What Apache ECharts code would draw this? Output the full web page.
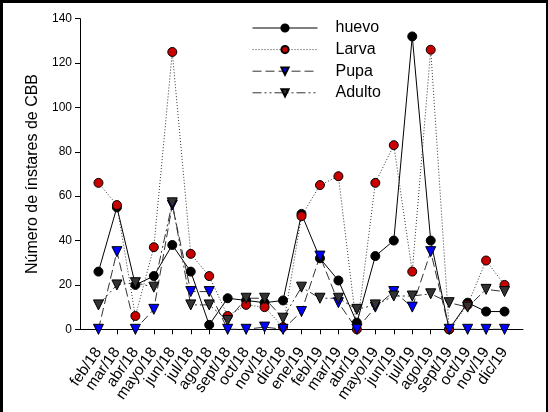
<!DOCTYPE html>
<html>
<head>
<meta charset="utf-8">
<script src="https://cdn.jsdelivr.net/npm/echarts@6/dist/echarts.min.js"></script>
<style>
  html, body { margin: 0; padding: 0; background: #fff; }
  #chart { width: 548px; height: 412px; }
  #frame { position: absolute; left: 0; top: 0; width: 548px; height: 412px; box-sizing: border-box;
           border-top: 3px solid #000; border-left: 3px solid #000; border-right: 2px solid #000; pointer-events: none; }
</style>
</head>
<body>
<div id="chart"></div>
<div id="frame"></div>
<script>
// meses muestreados
var months = ['feb/18', 'mar/18', 'abr/18', 'mayo/18', 'jun/18', 'jul/18', 'ago/18', 'sept/18', 'oct/18',
  'nov/18', 'dic/18', 'ene/19', 'feb/19', 'mar/19', 'abr/19', 'mayo/19', 'jun/19', 'jul/19', 'ago/19',
  'sept/19', 'oct/19', 'nov/19', 'dic/19']
var huevo = [26, 55, 20, 24, 38, 26, 2, 14, 13, 12, 13, 52, 32, 22, 3, 33, 40, 132, 40, 0, 12, 8, 8]
var larva = [66, 56, 6, 37, 125, 34, 24, 6, 11, 10, 1, 51, 65, 69, 0, 66, 83, 26, 126, 0, 11, 31, 20]
var pupa = [0, 35, 0, 9, 56, 17, 17, 0, 0, 1, 0, 8, 33, 12, 0, 10, 17, 10, 35, 0, 0, 0, 0]
var adulto = [11, 20, 21, 19, 57, 11, 11, 4, 14, 14, 5, 19, 14, 14, 9, 11, 15, 15, 16, 12, 10, 18, 17]
var yTicks = [0, 20, 40, 60, 80, 100, 120, 140]

// un hueco vacio a cada lado, como en la figura original
var axisData = [''].concat(months, [''])
function pad (arr) { return [null].concat(arr, [null]) }

var font = 'Liberation Sans, Arial, sans-serif'
var myChart = echarts.init(document.getElementById('chart'))
var option = {
  animation: false,
  grid: { left: 80, right: 25, top: 18.7, bottom: 82.7 },
  legend: {
    orient: 'vertical',
    left: 247,
    top: 15,
    itemWidth: 65,
    itemHeight: 9,
    itemGap: 5.6,
    lineStyle: { width: 1 },
    textStyle: { fontFamily: font, fontSize: 16, lineHeight: 16, color: '#000', padding: [0, 0, 0, 13] },
    data: ['huevo', 'Larva', 'Pupa', 'Adulto']
  },
  xAxis: {
    type: 'category',
    data: axisData,
    boundaryGap: false,
    axisLine: { lineStyle: { color: '#000', width: 1 } },
    axisTick: { length: 5, lineStyle: { color: '#000' }, interval: function (i, v) { return v !== '' } },
    axisLabel: { interval: 0, rotate: 55, margin: 20, color: '#000', fontFamily: font, fontSize: 15.5 }
  },
  yAxis: {
    type: 'value',
    min: yTicks[0],
    max: yTicks[yTicks.length - 1],
    interval: 20,
    name: 'Número de ínstares de CBB',
    nameLocation: 'middle',
    nameGap: 38,
    nameTextStyle: { fontFamily: font, fontSize: 16, color: '#000' },
    axisLine: { show: true, lineStyle: { color: '#000', width: 1 } },
    axisTick: { show: true, length: 5, lineStyle: { color: '#000' } },
    axisLabel: { margin: 8, color: '#000', fontFamily: font, fontSize: 12 },
    splitLine: { show: false }
  },
  series: [
    {
      name: 'huevo',
      type: 'line',
      data: pad(huevo),
      symbol: 'circle',
      symbolSize: 9,
      lineStyle: { color: '#000', width: 1, type: 'solid' },
      itemStyle: { color: '#000', borderColor: '#000', borderWidth: 1 }
    },
    {
      name: 'Larva',
      type: 'line',
      data: pad(larva),
      symbol: 'circle',
      symbolSize: 9,
      lineStyle: { color: '#333', width: 1, type: [1, 2] },
      itemStyle: { color: '#c80000', borderColor: '#000', borderWidth: 1 }
    },
    {
      name: 'Pupa',
      type: 'line',
      data: pad(pupa),
      symbol: 'triangle',
      symbolRotate: 180,
      symbolSize: 10,
      lineStyle: { color: '#333', width: 1, type: [9, 4] },
      itemStyle: { color: '#0000ff', borderColor: '#000', borderWidth: 1 }
    },
    {
      name: 'Adulto',
      type: 'line',
      data: pad(adulto),
      symbol: 'triangle',
      symbolRotate: 180,
      symbolSize: 10,
      lineStyle: { color: '#333', width: 1, type: [9, 3, 2, 3, 2, 3] },
      itemStyle: { color: '#333', borderColor: '#000', borderWidth: 1 }
    }
  ]
}
myChart.setOption(option)
</script>
</body>
</html>
